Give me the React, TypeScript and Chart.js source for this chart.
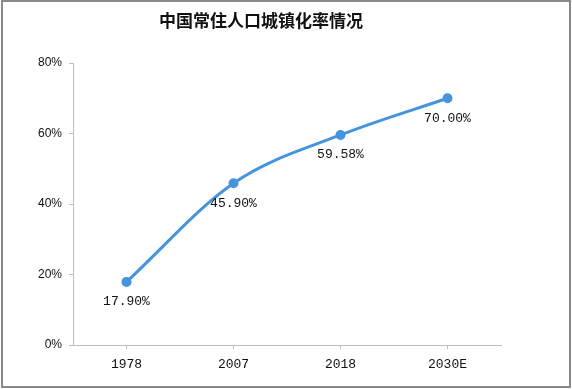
import React, { useEffect, useRef } from "react";
import { Chart, registerables } from "chart.js";

Chart.register(...registerables);

const categories = ["1978", "2007", "2018", "2030E"];
const urbanRate = [17.9, 45.9, 59.58, 70.0];
const yTicks = [0, 20, 40, 60, 80];
const title = "中国常住人口城镇化率情况";

const labelPlugin = {
  id: "valueLabels",
  afterDatasetsDraw(chart: any) {
    const ctx = chart.ctx;
    const meta = chart.getDatasetMeta(0);
    ctx.save();
    ctx.font = '13px "Liberation Mono", "DejaVu Sans Mono", monospace';
    ctx.fillStyle = "#111";
    ctx.textAlign = "center";
    ctx.textBaseline = "middle";
    meta.data.forEach((pt: any, i: number) => {
      ctx.fillText(urbanRate[i].toFixed(2) + "%", pt.x, pt.y + 20);
    });
    ctx.restore();
  },
  afterDraw(chart: any) {
    const ctx = chart.ctx;
    ctx.save();
    ctx.font = 'bold 17px "Noto Sans CJK SC", sans-serif';
    ctx.fillStyle = "#111";
    ctx.textAlign = "center";
    ctx.textBaseline = "middle";
    ctx.fillText(title, 261, 21);
    ctx.strokeStyle = "#8a8a8a";
    ctx.lineWidth = 2;
    ctx.strokeRect(2, 1, 568, 386);
    ctx.restore();
  },
};

export default function App() {
  const ref = useRef<HTMLCanvasElement>(null);
  useEffect(() => {
    document.body.style.margin = "0";
    const chart = new Chart(ref.current!, {
      type: "line",
      data: {
        labels: categories,
        datasets: [
          {
            data: urbanRate,
            borderColor: "#4794dd",
            backgroundColor: "#4794dd",
            borderWidth: 3,
            pointRadius: 3.5,
            pointBackgroundColor: "#4794dd",
            pointBorderColor: "#4794dd",
            cubicInterpolationMode: "monotone",
          },
        ],
      },
      options: {
        animation: false,
        responsive: false,
        layout: { padding: { top: 63, right: 71, left: 0, bottom: 0 } },
        plugins: { legend: { display: false }, tooltip: { enabled: false }, title: { display: false } },
        scales: {
          x: {
            offset: true,
            grid: { display: true, drawOnChartArea: false, color: "#bfbfbf", tickLength: 4 },
            border: { color: "#bfbfbf" },
            ticks: {
              color: "#111",
              font: { family: '"Liberation Mono", "DejaVu Sans Mono", monospace', size: 13 },
              padding: 8,
            },
            afterFit: (s: any) => {
              s.height = 44;
            },
          },
          y: {
            min: 0,
            max: 80,
            afterBuildTicks: (s: any) => {
              s.ticks = yTicks.map((v) => ({ value: v }));
            },
            grid: { display: true, drawOnChartArea: false, color: "#bfbfbf", tickLength: 4 },
            border: { color: "#bfbfbf" },
            ticks: {
              color: "#111",
              font: { family: '"Liberation Sans", sans-serif', size: 12 },
              padding: 7,
              callback: (v: any) => v + "%",
            },
            afterFit: (s: any) => {
              s.width = 73;
            },
          },
        },
      },
      plugins: [labelPlugin],
    } as any);
    return () => chart.destroy();
  }, []);
  return <canvas ref={ref} width={572} height={389} style={{ display: "block" }} />;
}
